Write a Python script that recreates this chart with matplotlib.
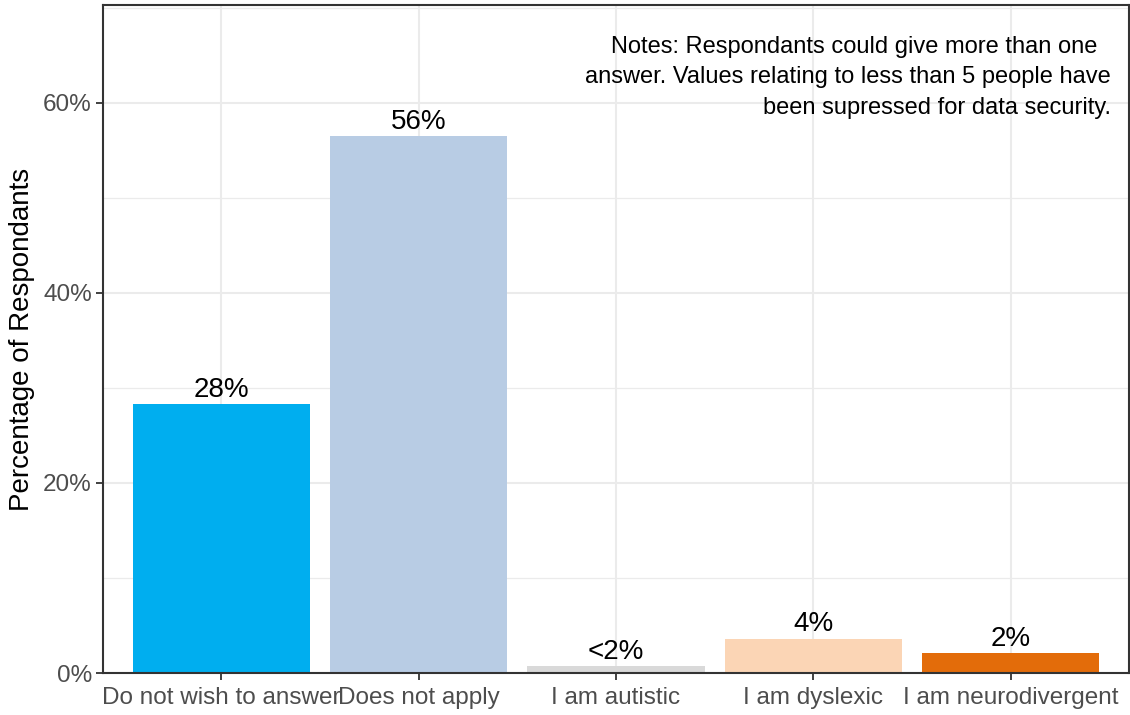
import matplotlib
matplotlib.use("Agg")
import matplotlib.pyplot as plt
from matplotlib.ticker import MultipleLocator, FuncFormatter

categories = ["Do not wish to answer", "Does not apply", "I am autistic",
              "I am dyslexic", "I am neurodivergent"]
values = [28.3, 56.5, 0.7, 3.6, 2.1]
labels = ["28%", "56%", "<2%", "4%", "2%"]
colors = ["#00AEEF", "#B8CCE4", "#D9D9D9", "#FBD5B5", "#E36C0A"]
note = ("Notes: Respondants could give more than one  \n"
        "answer. Values relating to less than 5 people have\n"
        "been supressed for data security.")

plt.rcParams['font.family'] = ['Liberation Sans', 'DejaVu Sans']

fig = plt.figure(figsize=(11.3, 7.15), dpi=100)
ax = fig.add_axes([103/1130, 42/715, 1026/1130, 668/715])

x = list(range(len(categories)))
ax.bar(x, values, width=0.9, color=colors, zorder=2)
for xi, v, lab in zip(x, values, labels):
    ax.annotate(lab, (xi, v), xytext=(0, 1), textcoords='offset points',
                ha='center', va='bottom', fontsize=20, color='black', zorder=3)

ax.set_xlim(-0.6, 4.6)
ax.set_ylim(0, 70.3)
ax.set_xticks(x)
ax.set_xticklabels(categories, fontsize=17.5, color='#4D4D4D')
ax.yaxis.set_major_locator(MultipleLocator(20))
ax.yaxis.set_minor_locator(MultipleLocator(10))
ax.yaxis.set_major_formatter(FuncFormatter(lambda v, p: f"{v:.0f}%"))
ax.tick_params(axis='y', labelsize=17.5, labelcolor='#4D4D4D', pad=3)
ax.tick_params(axis='x', pad=5)
ax.tick_params(which='major', length=5, width=1.3, color='#333333')
ax.tick_params(which='minor', length=0)

ax.grid(True, which='major', color='#EBEBEB', linewidth=1.5, zorder=0)
ax.grid(True, which='minor', axis='y', color='#EBEBEB', linewidth=0.9, zorder=0)
ax.set_axisbelow(True)
for s in ax.spines.values():
    s.set_color('#333333')
    s.set_linewidth(1.5)

ax.set_ylabel("Percentage of Respondants", fontsize=20, color='black', labelpad=6)

ax.text(0.982, 0.954, note, transform=ax.transAxes, ha='right', va='top',
        fontsize=17, color='black', linespacing=1.5, zorder=4)

fig.savefig("out.png", dpi=100, facecolor='white')
